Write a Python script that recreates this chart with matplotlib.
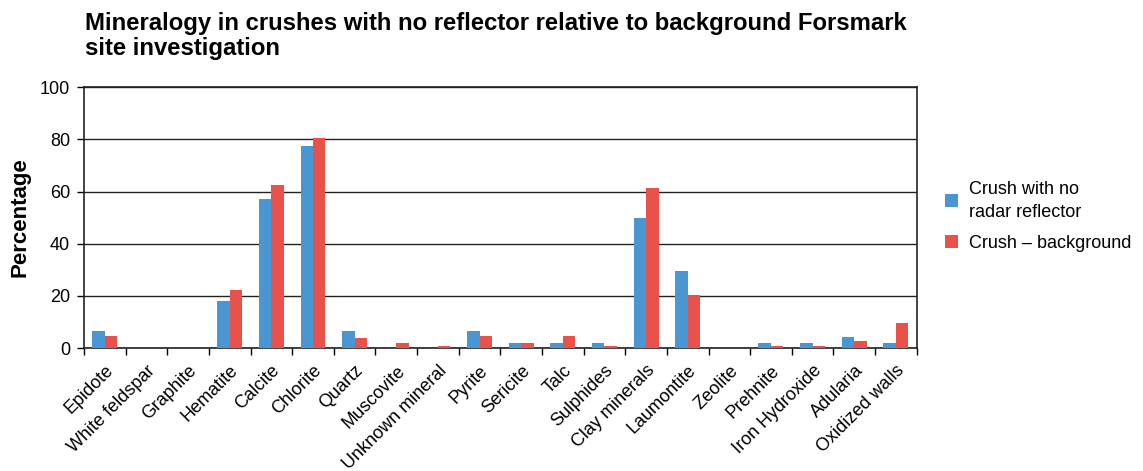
import matplotlib
matplotlib.use("Agg")
import matplotlib.pyplot as plt
import numpy as np

categories = ["Epidote", "White feldspar", "Graphite", "Hematite", "Calcite", "Chlorite",
              "Quartz", "Muscovite", "Unknown mineral", "Pyrite", "Sericite", "Talc",
              "Sulphides", "Clay minerals", "Laumontite", "Zeolite", "Prehnite",
              "Iron Hydroxide", "Adularia", "Oxidized walls"]
no_reflector = [6.5, 0, 0, 18, 57, 77.4, 6.5, 0, 0, 6.5, 1.9, 1.9, 1.9, 49.8, 29.5, 0,
                1.9, 1.9, 4.2, 1.9]
background = [4.6, 0, 0, 22.2, 62.5, 80.5, 3.8, 1.9, 0.8, 4.6, 1.9, 4.6, 0.8, 61.3, 20.3, 0,
              0.8, 0.8, 2.7, 9.6]
series_names = ["Crush with no\nradar reflector", "Crush \u2013 background"]
yticks = [0, 20, 40, 60, 80, 100]

plt.rcParams["font.family"] = ["Liberation Sans", "DejaVu Sans"]

fig = plt.figure(figsize=(11.43, 4.71), dpi=100)
ax = fig.add_axes([0.0735, 0.261, 0.7285, 0.554])

x = np.arange(len(categories))
w = 0.3
ax.bar(x - w / 2, no_reflector, width=w, color="#4A96D3", label=series_names[0], zorder=3)
ax.bar(x + w / 2, background, width=w, color="#E8524A", label=series_names[1], zorder=3)

ax.set_xlim(-0.5, len(categories) - 0.5)
ax.set_ylim(0, 100)
ax.set_yticks(yticks)
ax.tick_params(axis="y", labelsize=13, length=5, width=1, direction="out", pad=5)
ax.yaxis.grid(True, color="#222222", linewidth=1, zorder=0)

ax.set_xticks(x)
ax.set_xticklabels(categories, rotation=45, ha="right", rotation_mode="anchor", fontsize=13)
ax.tick_params(axis="x", which="major", length=0, pad=10)
ax.set_xticks(np.arange(-0.5, len(categories), 1), minor=True)
ax.tick_params(axis="x", which="minor", length=5, width=1, direction="out")

for s in ax.spines.values():
    s.set_color("#222222")
    s.set_linewidth(1.2)

ax.set_ylabel("Percentage", fontsize=16, fontweight="bold", labelpad=7)

fig.text(0.074, 0.975, "Mineralogy in crushes with no reflector relative to background Forsmark\nsite investigation",
         fontsize=17.2, fontweight="bold", ha="left", va="top", linespacing=1.15)

leg = ax.legend(loc="center left", bbox_to_anchor=(1.015, 0.505), frameon=False, fontsize=13,
                handlelength=0.7, handleheight=0.7, handletextpad=0.6, labelspacing=0.8)
for t in leg.get_texts():
    t.set_linespacing(1.45)

fig.savefig("out.png", dpi=100)
